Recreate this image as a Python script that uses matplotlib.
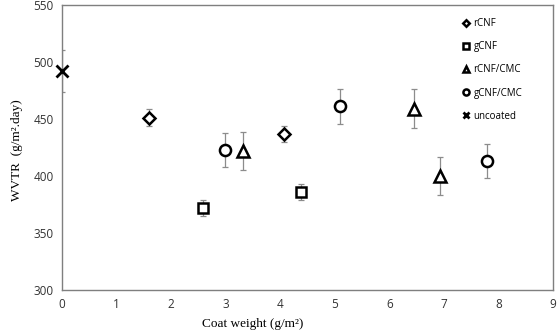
import matplotlib
matplotlib.use("Agg")
import matplotlib.pyplot as plt

# data (coat weight g/m2, WVTR g/m2.day, error)
rcnf_x = [1.59, 4.07]
rcnf_y = [451, 437]
rcnf_err = [7.5, 7.3]

gcnf_x = [2.58, 4.39]
gcnf_y = [372, 386]
gcnf_err = [7, 7]

rcnf_cmc_x = [3.32, 6.45, 6.92]
rcnf_cmc_y = [422, 459, 400]
rcnf_cmc_err = [17, 17, 17]

gcnf_cmc_x = [2.99, 5.09, 7.78]
gcnf_cmc_y = [423, 461, 413]
gcnf_cmc_err = [15, 15, 15]

unc_x = [0]
unc_y = [492]
unc_err = [18.5]

x_ticks = list(range(0, 10))
y_ticks = [300, 350, 400, 450, 500, 550]

series = [
    ("rCNF", rcnf_x, rcnf_y, rcnf_err, "D", 6),
    ("gCNF", gcnf_x, gcnf_y, gcnf_err, "s", 7.5),
    ("rCNF/CMC", rcnf_cmc_x, rcnf_cmc_y, rcnf_cmc_err, "^", 8),
    ("gCNF/CMC", gcnf_cmc_x, gcnf_cmc_y, gcnf_cmc_err, "o", 8),
    ("uncoated", unc_x, unc_y, unc_err, "x", 8),
]

fig = plt.figure(figsize=(5.57, 3.36), dpi=100)
ax = fig.add_axes([0.111, 0.137, 0.882, 0.848])

for name, xs, ys, es, mk, ms in series:
    ax.errorbar(xs, ys, yerr=es, fmt="none", ecolor="#8c8c8c", elinewidth=0.9,
                capsize=2, capthick=0.9, zorder=2)
    if mk == "x":
        ax.plot(xs, ys, linestyle="none", marker=mk, markersize=ms,
                color="black", markeredgewidth=2, label=name, zorder=3,
                clip_on=False)
    else:
        ax.plot(xs, ys, linestyle="none", marker=mk, markersize=ms,
                markerfacecolor="white", markeredgecolor="black",
                markeredgewidth=1.8, label=name, zorder=3)

ax.set_xlim(0, 9)
ax.set_ylim(300, 550)
ax.set_xticks(x_ticks)
ax.set_yticks(y_ticks)
ax.tick_params(length=0, labelsize=8.5, colors="#333333", pad=6)
for lab in ax.get_xticklabels() + ax.get_yticklabels():
    lab.set_fontfamily("Open Sans")
for sp in ax.spines.values():
    sp.set_color("#7f7f7f")
    sp.set_linewidth(1)

ax.set_xlabel("Coat weight (g/m²)", fontfamily="Liberation Serif",
              fontsize=9.5)
ax.xaxis.set_label_coords((253 - 62) / 491.0, -0.1)
ax.set_ylabel("WVTR  (g/m².day)", fontfamily="Liberation Serif",
              fontsize=9.5)
ax.yaxis.set_label_coords(-0.08, 0.49)

leg = ax.legend(loc="upper right", bbox_to_anchor=(0.955, 0.985), frameon=False,
                prop={"family": "Open Sans", "size": 7},
                handlelength=0.5, handletextpad=0.5, labelspacing=1.25,
                markerscale=0.55)

fig.savefig("out.png", dpi=100)
